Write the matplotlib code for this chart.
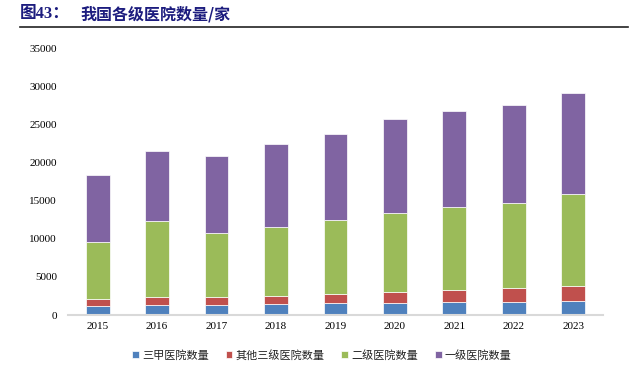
import matplotlib.pyplot as plt
import numpy as np

plt.rcParams['font.family'] = ['Liberation Serif', 'Noto Sans CJK SC']

years = ['2015', '2016', '2017', '2018', '2019', '2020', '2021', '2022', '2023']
# 三甲 / 其他三级 / 二级 / 一级
sanjia = [1236, 1308, 1360, 1442, 1516, 1580, 1651, 1716, 1830]
other_san = [887, 1080, 980, 1106, 1233, 1416, 1624, 1807, 2025]
erji = [7494, 9950, 8422, 9017, 9687, 10404, 10848, 11145, 11955]
yiji = [8759, 9210, 10050, 10831, 11264, 12252, 12649, 12815, 13252]

labels = ['三甲医院数量', '其他三级医院数量', '二级医院数量', '一级医院数量']
colors = ['#4F81BD', '#C0504D', '#9BBB59', '#8064A2']

fig = plt.figure(figsize=(6.36, 3.89), dpi=100)
ax = fig.add_axes([0.1069, 0.1902, 0.8412, 0.6864])

x = np.arange(len(years))
bottom = np.zeros(len(years))
handles = []
for vals, lab, col in zip([sanjia, other_san, erji, yiji], labels, colors):
    b = ax.bar(x, vals, width=0.4, bottom=bottom, color=col, label=lab,
               edgecolor='#ffffff', linewidth=0.5)
    handles.append(b)
    bottom += np.array(vals)

ax.set_xlim(-0.5, len(years) - 0.5)
ax.set_ylim(0, 35000)
ax.set_yticks(range(0, 35001, 5000))
ax.set_xticks(x)
ax.set_xticklabels(years)
ax.tick_params(axis='both', length=0, labelsize=8, colors='#000000')
ax.tick_params(axis='y', pad=8)
ax.tick_params(axis='x', pad=5)
for s in ['top', 'right', 'left']:
    ax.spines[s].set_visible(False)
ax.spines['bottom'].set_color('#D9D9D9')
ax.spines['bottom'].set_linewidth(1.5)

# title and rule
fig.text(20 / 636, 1 - 14 / 389, '图43：', fontsize=12, fontweight='bold',
         color='#1C1C7E', va='center', ha='left',
         family=['Liberation Serif', 'Noto Sans CJK SC'])
fig.text(80 / 636, 1 - 14 / 389, '我国各级医院数量/家', fontsize=11.5, fontweight='bold',
         color='#1C1C7E', va='center', ha='left',
         family=['Noto Sans CJK SC'])
fig.add_artist(plt.Line2D([20 / 636, 628 / 636], [1 - 27 / 389, 1 - 27 / 389],
                          color='#222222', linewidth=1.2))

leg = fig.legend(handles=handles, labels=labels, loc='center', ncol=4,
                 bbox_to_anchor=(322 / 636, 1 - 355 / 389), frameon=False,
                 prop={'family': 'Noto Sans CJK SC', 'size': 8},
                 handlelength=0.6, handleheight=0.6, handletextpad=0.3,
                 columnspacing=1.5)
for t in leg.get_texts():
    t.set_color('#222222')

fig.savefig('out.png', dpi=100)
